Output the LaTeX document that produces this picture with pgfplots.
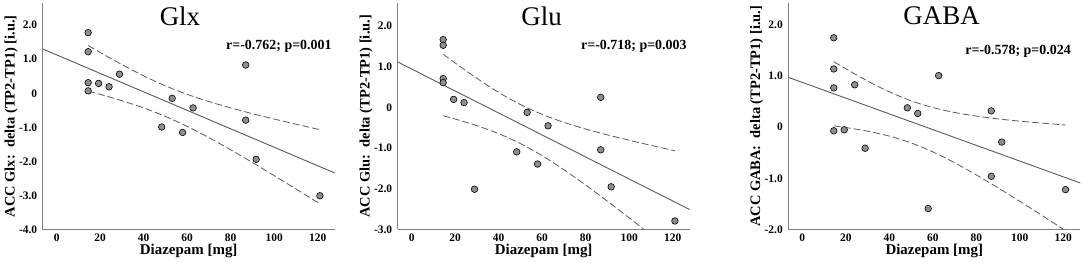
\documentclass[border=0pt]{standalone}
\usepackage{fontspec}
\setmainfont{Liberation Serif}
\usepackage{pgfplots}
\pgfplotsset{compat=1.18}
\usepackage{pgfplotstable}
\newcommand\fs[1]{\fontsize{#1}{#1}\selectfont}
\definecolor{axgray}{HTML}{808080}
\definecolor{lngray}{HTML}{5A5A5A}
\definecolor{ptgray}{HTML}{8E8E8E}

\pgfplotstableread{
x y
14.5 1.78
14.5 1.22
14.5 0.31
14.5 0.07
19.3 0.29
24.1 0.19
28.9 0.56
48.3 -0.99
53.1 -0.15
57.9 -1.15
62.7 -0.43
86.9 0.83
86.9 -0.79
91.7 -1.94
121 -3.01
}\glx
\pgfplotstableread{
x y
14.5 1.67
14.5 1.53
14.5 0.71
14.5 0.61
19.3 0.20
24.1 0.12
28.9 -2.01
48.3 -1.09
53.1 -0.12
57.9 -1.39
62.7 -0.45
86.9 0.25
86.9 -1.04
91.7 -1.95
121 -2.79
}\glu
\pgfplotstableread{
x y
14.5 1.75
14.5 1.14
14.5 0.77
14.5 -0.07
19.3 -0.05
24.1 0.83
28.9 -0.41
48.3 0.38
53.1 0.27
57.9 -1.59
62.7 1.01
86.9 0.32
86.9 -0.96
91.7 -0.29
121 -1.22
}\gaba
% confidence bands: x upper lower
\pgfplotstableread{
x up lo
14.5 1.401 0.063
20 1.198 -0.032
30 0.842 -0.218
40 0.511 -0.431
50 0.219 -0.681
60 -0.031 -0.973
70 -0.244 -1.304
80 -0.430 -1.660
90 -0.600 -2.034
100 -0.757 -2.419
110 -0.908 -2.810
121 -1.069 -3.247
}\glxband
\pgfplotstableread{
x up lo
14.5 1.311 -0.203
20 1.095 -0.283
30 0.717 -0.447
40 0.371 -0.643
50 0.073 -0.887
60 -0.170 -1.184
70 -0.366 -1.530
80 -0.530 -1.908
90 -0.673 -2.305
100 -0.806 -2.714
110 -0.931 -3.131
121 -1.063 -3.593
}\gluband
\pgfplotstableread{
x up lo
14.5 1.281 0.025
20 1.144 -0.006
30 0.905 -0.077
40 0.693 -0.173
50 0.518 -0.306
60 0.385 -0.481
70 0.289 -0.693
80 0.218 -0.932
90 0.163 -1.185
100 0.119 -1.449
110 0.081 -1.719
121 0.044 -2.022
}\gababand

\pgfplotsset{
  panel/.style={
    scale only axis, width=292bp, height=226.5bp,
    anchor=south west,
    xmin=-6.4, xmax=127.8,
    axis x line*=bottom, axis y line*=left,
    axis line style={-, draw=axgray, line width=0.9bp},
    major tick length=0pt,
    xtick={0,20,40,60,80,100,120},
    xticklabels={0,20,40,60,80,100,120},
    ticklabel style={font=\bfseries\fs{11.5}},
    xticklabel style={yshift=-1bp},
    yticklabel style={xshift=-2bp},
    xlabel={\bfseries Diazepam [mg]},
    xlabel style={font=\fs{15}, at={(axis description cs:0.5,-0.095)}, anchor=center},
    ylabel style={font=\fs{14.5}, at={(axis description cs:-0.108,0.5)}, anchor=center, rotate=0},
    clip=true,
  },
  pts/.style={only marks, mark=*, mark size=3.3bp, mark options={fill=ptgray, draw=black, line width=0.6bp}},
  reg/.style={no marks, draw=lngray, line width=0.9bp},
  band/.style={no marks, smooth, draw=lngray, line width=0.8bp, dash pattern=on 7bp off 3bp},
}

\begin{document}
\begin{tikzpicture}
\path[use as bounding box] (0,0) rectangle (1084bp,263bp);

% Glx
\begin{axis}[panel, at={(42.7bp,33.5bp)},
  ymin=-4, ymax=2.65,
  ytick={-4,-3,-2,-1,0,1,2},
  yticklabels={-4.0,-3.0,-2.0,-1.0,0,1.0,2.0},
  ylabel={\bfseries ACC Glx:\ \ delta (TP2-TP1) [i.u.]}]
\addplot[reg] coordinates {(-6.4,1.30) (127.8,-2.34)};
\addplot[band] table[x=x,y=up] {\glxband};
\addplot[band] table[x=x,y=lo] {\glxband};
\addplot[pts] table[x=x,y=y] {\glx};
\node[font=\fs{27}, anchor=north, inner sep=0pt] at (axis description cs:0.47,0.985) {Glx};
\node[font=\bfseries\fs{14}, anchor=east, inner sep=0pt] at (axis description cs:0.99,0.807) {r=-0.762; p=0.001};
\end{axis}

% Glu
\begin{axis}[panel, at={(397.7bp,33.5bp)},
  ymin=-3, ymax=2.57,
  ytick={-3,-2,-1,0,1,2},
  yticklabels={-3.0,-2.0,-1.0,0,1.0,2.0},
  ylabel={\bfseries ACC Glu:\ \ delta (TP2-TP1) [i.u.]}]
\addplot[reg] coordinates {(-6.4,1.12) (127.8,-2.51)};
\addplot[band] table[x=x,y=up] {\gluband};
\addplot[band] table[x=x,y=lo] {\gluband};
\addplot[pts] table[x=x,y=y] {\glu};
\node[font=\fs{27}, anchor=north, inner sep=0pt] at (axis description cs:0.493,0.985) {Glu};
\node[font=\bfseries\fs{14}, anchor=east, inner sep=0pt] at (axis description cs:0.99,0.81) {r=-0.718; p=0.003};
\end{axis}

% GABA
\begin{axis}[panel, at={(788.3bp,33.5bp)},
  ymin=-2, ymax=2.43,
  ytick={-2,-1,0,1,2},
  yticklabels={-2.0,-1.0,0,1.0,2.0},
  ylabel={\bfseries ACC GABA:\ \ delta (TP2-TP1) [i.u.]}]
\addplot[reg] coordinates {(-6.4,0.976) (127.8,-1.09)};
\addplot[band] table[x=x,y=up] {\gababand};
\addplot[band] table[x=x,y=lo] {\gababand};
\addplot[pts] table[x=x,y=y] {\gaba};
\node[font=\fs{27}, anchor=north, inner sep=0pt] at (axis description cs:0.525,0.985) {GABA};
\node[font=\bfseries\fs{14}, anchor=east, inner sep=0pt] at (axis description cs:0.968,0.785) {r=-0.578; p=0.024};
\end{axis}
\end{tikzpicture}
\end{document}
